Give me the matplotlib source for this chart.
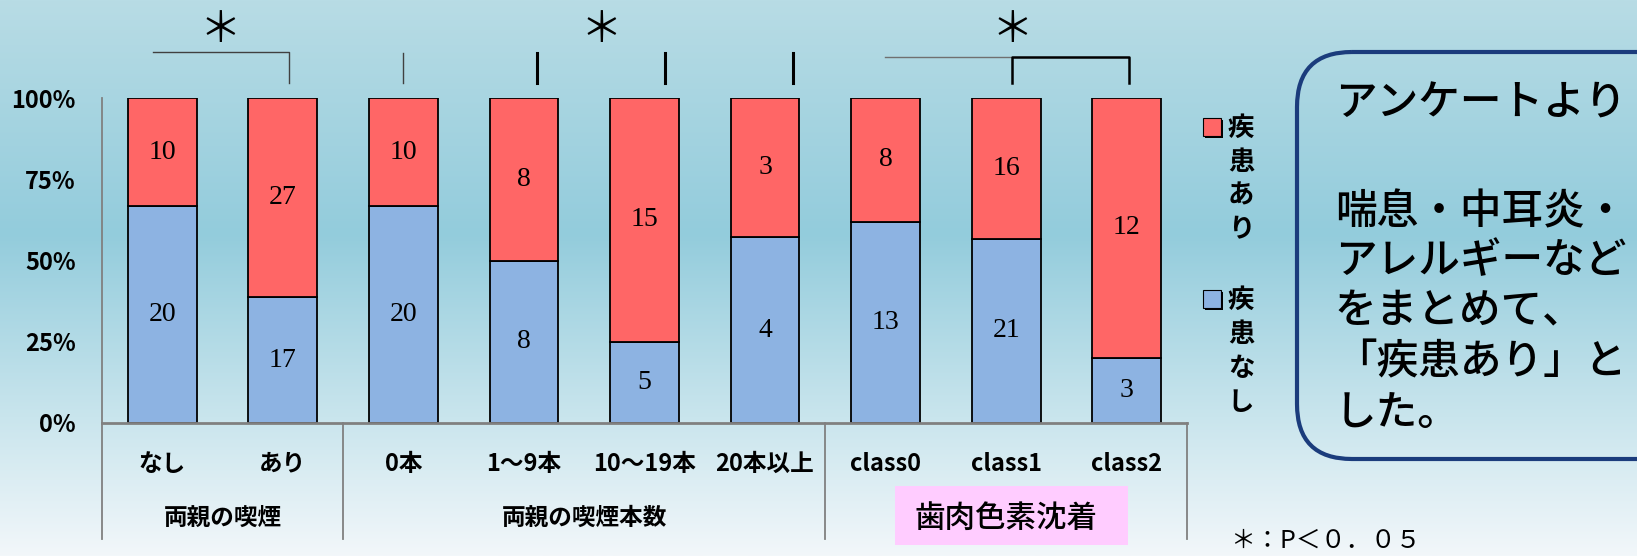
import numpy as np
import matplotlib.pyplot as plt
from matplotlib.colors import LinearSegmentedColormap
from matplotlib.patches import Rectangle, FancyBboxPatch
from matplotlib import transforms

plt.rcParams['font.family'] = ['Noto Sans CJK JP', 'DejaVu Sans']

# data
categories = ['なし', 'あり', '0本', '1～9本', '10～19本', '20本以上', 'class0', 'class1', 'class2']
groups = ['両親の喫煙', '両親の喫煙本数', '歯肉色素沈着']
group_sizes = [2, 4, 3]
no_disease = [20, 17, 20, 8, 5, 4, 13, 21, 3]   # 疾患なし
disease = [10, 27, 10, 8, 15, 3, 8, 16, 12]     # 疾患あり
ytick_labels = ['0%', '25%', '50%', '75%', '100%']
legend_labels = ['疾患あり', '疾患なし']
note_lines = ['アンケートより', '喘息・中耳炎・', 'アレルギーなど', 'をまとめて、', '「疾患あり」と', 'した。']
p_note = '＊：P＜０．０５'

red = '#FF6666'
blue = '#8DB3E2'
W, H = 1637, 556

fig = plt.figure(figsize=(W / 100, H / 100), dpi=100)

# background gradient, also used for pixel-placed annotations
bg = fig.add_axes([0, 0, 1, 1], zorder=0)
cmap = LinearSegmentedColormap.from_list('bg', [(0, '#B8DCE5'), (0.42, '#93CCDC'),
                                                 (0.75, '#C9E5ED'), (1, '#F2F7FA')])
bg.imshow(np.linspace(0, 1, 256).reshape(-1, 1), cmap=cmap, aspect='auto', extent=[0, W, H, 0])
bg.set_xlim(0, W)
bg.set_ylim(H, 0)
bg.axis('off')

# main chart
ax = fig.add_axes([102 / W, (H - 423) / H, (1187 - 102) / W, (423 - 98) / H], zorder=1)
ax.patch.set_alpha(0)
x = np.arange(len(categories))
no_arr = np.array(no_disease)
dis_arr = np.array(disease)
tot = no_arr + dis_arr
p_no = no_arr / tot
p_yes = dis_arr / tot
ax.bar(x, p_no, 0.57, color=blue, edgecolor='black', linewidth=1.3)
ax.bar(x, p_yes, 0.57, bottom=p_no, color=red, edgecolor='black', linewidth=1.3)

for i in range(len(categories)):
    ax.text(x[i], p_no[i] / 2, str(no_disease[i]), ha='center', va='center',
            fontsize=20, family='Liberation Serif')
    ax.text(x[i], p_no[i] + p_yes[i] / 2, str(disease[i]), ha='center', va='center',
            fontsize=20, family='Liberation Serif')

ax.set_xlim(-0.5, len(categories) - 0.5)
ax.set_ylim(0, 1)
ax.set_xticks([])
ax.set_yticks([0, 0.25, 0.5, 0.75, 1], ytick_labels, fontsize=17, fontweight='bold')
ax.tick_params(axis='y', length=0, pad=19)
for s in ['top', 'right']:
    ax.spines[s].set_visible(False)
ax.spines['left'].set_color('#808080')
ax.spines['left'].set_linewidth(1.3)
ax.spines['bottom'].set_color('#808080')
ax.spines['bottom'].set_linewidth(2)

# category labels, group labels and dividers
tr = transforms.blended_transform_factory(ax.transData, ax.transAxes)
for i, c in enumerate(categories):
    ax.text(x[i], -0.125, c, transform=tr, ha='center', va='center',
            fontsize=17, fontweight='bold')
edges = np.concatenate([[0], np.cumsum(group_sizes)]) - 0.5
for e in edges:
    ax.plot([e, e], [0, -0.357], transform=tr, color='#808080', lw=1.3, clip_on=False)
for g in range(len(groups)):
    mid = (edges[g] + edges[g + 1]) / 2
    if g == 2:
        ax.text(mid, -0.293, groups[g], transform=tr, ha='center', va='center',
                fontsize=22, fontweight='medium', zorder=3)
    else:
        ax.text(mid, -0.293, groups[g], transform=tr, ha='center', va='center',
                fontsize=17, fontweight='bold')
bg.add_patch(Rectangle((895, 486), 233, 59, facecolor='#FFCCFF', edgecolor='none'))

# significance marks
for sx in [220, 601, 1012]:
    bg.text(sx, 30, '＊', ha='center', va='center', fontsize=30)
bg.plot([153, 289, 289], [52, 52, 83], color='#404040', lw=1)
bg.plot([403, 403], [53, 83], color='#404040', lw=1)
for tx in [537, 665, 793]:
    bg.plot([tx, tx], [53, 83], color='black', lw=2.2)
bg.plot([885, 1012], [57, 57], color='#707070', lw=1)
bg.plot([1012, 1012, 1129, 1129], [83, 57, 57, 83], color='black', lw=1.8)

# legend
for k, (lab, col, y0) in enumerate(zip(legend_labels, [red, blue], [128, 300])):
    sy = y0 - 10
    bg.add_patch(Rectangle((1205, sy + 2), 18, 18, facecolor='black', edgecolor='none'))
    bg.add_patch(Rectangle((1203, sy), 18, 18, facecolor=col, edgecolor='black', lw=0.8))
    for j, ch in enumerate(lab):
        bg.text(1241, y0 + j * 34, ch, ha='center', va='center', fontsize=19, fontweight='bold')

# note box
bg.add_patch(FancyBboxPatch((1297, 52), 400, 407, boxstyle='round,pad=0,rounding_size=55',
                            facecolor='none', edgecolor='#1B3C7C', lw=3))
for t, ty in zip(note_lines, [103, 212, 261, 311, 362, 413]):
    bg.text(1335, ty, t, ha='left', va='center', fontsize=30, fontweight='medium')
bg.text(1230, 541, p_note, ha='left', va='center', fontsize=18)

fig.savefig('out.png', dpi=100)
